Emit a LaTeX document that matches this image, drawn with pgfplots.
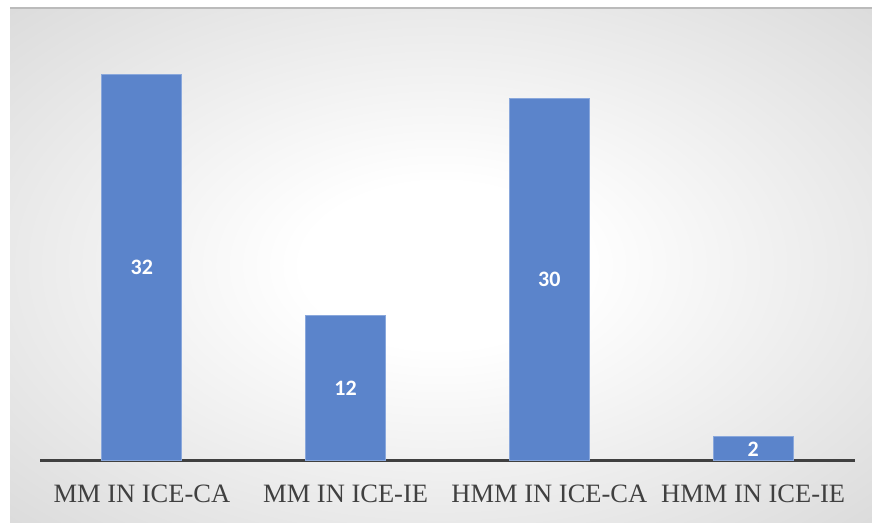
\documentclass[border=0pt]{standalone}
\usepackage{pgfplots}
\pgfplotsset{compat=1.18}
\usepackage{fontspec}
\setmainfont{Liberation Serif}
\newfontfamily\carlito{Carlito}
\definecolor{barblue}{HTML}{5B84CB}
\definecolor{baredge}{HTML}{8AA8DC}
\definecolor{axisgray}{HTML}{404040}
\definecolor{edgegray}{HTML}{C9C9C9}
\definecolor{cornergray}{HTML}{BBBBBB}
\pgfdeclareradialshading{bgshade}{\pgfpoint{0bp}{0bp}}{color(0bp)=(white); color(8bp)=(white); color(50bp)=(edgegray); color(71bp)=(cornergray)}
\begin{document}
\begin{tikzpicture}[x=1bp,y=1bp]
\path[use as bounding box,fill=white] (0,0) rectangle (872,523);
\shade[shading=bgshade] (10,0) rectangle (872,515);
\draw[line width=1.5bp,color=cornergray] (10,515) -- (872,515);
\begin{axis}[
  at={(40bp,62bp)}, anchor=south west,
  scale only axis,
  width=815bp, height=435bp,
  xmin=-0.5, xmax=3.5, ymin=0, ymax=36,
  axis x line*=bottom,
  hide y axis,
  axis line style={line width=3bp, color=axisgray, -},
  xtick={0,1,2,3},
  xticklabels={MM IN ICE-CA, MM IN ICE-IE, HMM IN ICE-CA, HMM IN ICE-IE},
  major tick length=0pt,
  xticklabel style={font=\fontsize{26.5bp}{30bp}\selectfont, text=axisgray, yshift=-20bp},
  ybar, bar width=80bp,
  visualization depends on=rawy \as \rawy,
  nodes near coords,
  every node near coord/.append style={font=\carlito\bfseries\fontsize{22bp}{24bp}\selectfont, text=white, anchor=center, /pgf/number format/assume math mode=true, shift={(axis direction cs:0,-\rawy/2)}},
  clip=false,
]
\addplot[fill=barblue, draw=baredge, line width=1bp] coordinates {(0,32) (1,12) (2,30) (3,2)};
\end{axis}
\end{tikzpicture}
\end{document}
